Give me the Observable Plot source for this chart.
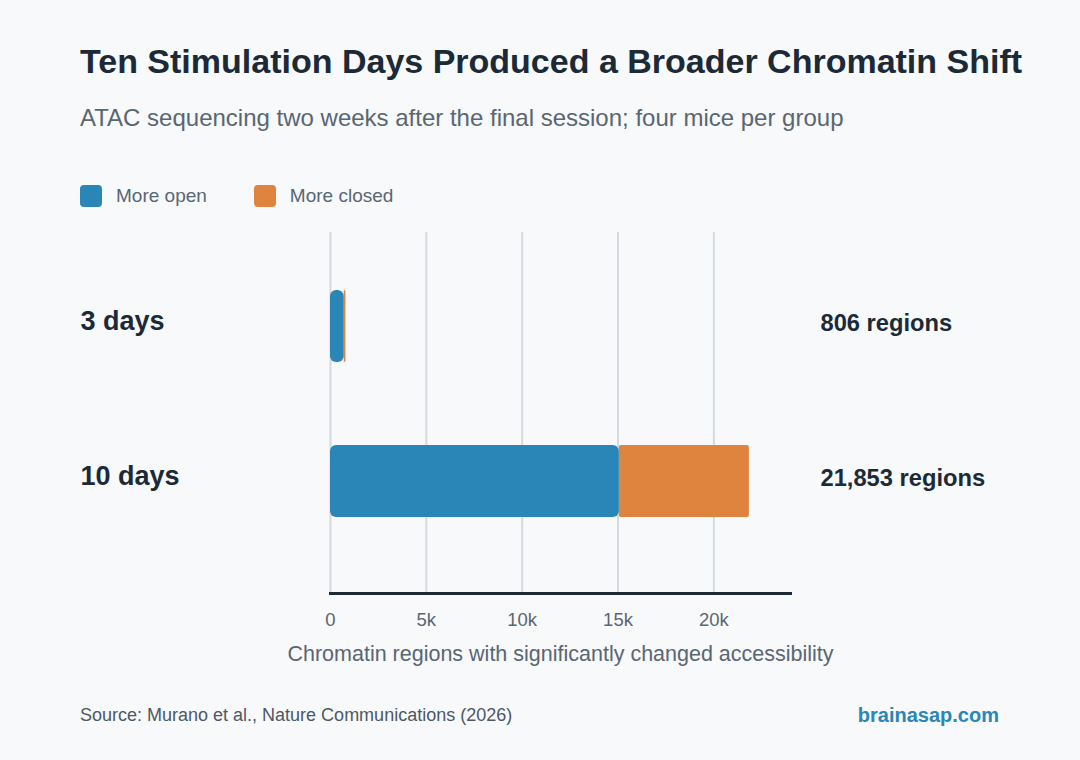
<!DOCTYPE html>
<html>
<head>
<meta charset="utf-8">
<script src="https://cdn.jsdelivr.net/npm/d3@7"></script>
<script src="https://cdn.jsdelivr.net/npm/@observablehq/plot@0.6"></script>
<style>
  html, body { margin: 0; padding: 0; background: #f7f9fb; }
  body { width: 1080px; height: 760px; position: relative; overflow: hidden; font-family: "Liberation Sans", Arial, sans-serif; }
  #title { position: absolute; left: 80px; top: 41px; font-size: 34px; font-weight: bold; color: #1c2a38; white-space: nowrap; line-height: 40px; }
  #subtitle { position: absolute; left: 80px; top: 104px; font-size: 24px; color: #5a6672; white-space: nowrap; line-height: 28px; }
  #legend { position: absolute; left: 80px; top: 184px; display: flex; font-size: 19px; color: #5a6672; line-height: 24px; }
  .item { display: flex; align-items: center; margin-right: 47px; }
  .sw { width: 22px; height: 22px; border-radius: 4px; margin-right: 14px; }
  #chart { position: absolute; left: 0; top: 215px; }
  #source { position: absolute; left: 80px; top: 704px; font-size: 18px; color: #4d5864; line-height: 22px; }
  #brand { position: absolute; right: 81px; top: 703px; font-size: 20px; font-weight: bold; color: #2a86b8; line-height: 24px; }
</style>
</head>
<body>
<div id="title">Ten Stimulation Days Produced a Broader Chromatin Shift</div>
<div id="subtitle">ATAC sequencing two weeks after the final session; four mice per group</div>
<div id="legend"></div>
<div id="chart"></div>
<div id="source">Source: Murano et al., Nature Communications (2026)</div>
<div id="brand">brainasap.com</div>
<script>
const groups = ["3 days", "10 days"];
const moreOpen = [715, 15070];
const moreClosed = [91, 6783];
const totalLabels = ["806 regions", "21,853 regions"];
const seriesNames = ["More open", "More closed"];
const seriesColors = ["#2a86b6", "#df843f"];
const xTicks = [0, 5000, 10000, 15000, 20000];
const xLabel = "Chromatin regions with significantly changed accessibility";

const rows = groups.map((g, i) => ({group: g, open: moreOpen[i], closed: moreClosed[i], total: moreOpen[i] + moreClosed[i], label: totalLabels[i]}));

const legend = document.getElementById("legend");
seriesNames.forEach((n, i) => {
  const it = document.createElement("div");
  it.className = "item";
  it.innerHTML = `<div class="sw" style="background:${seriesColors[i]}"></div><span>${n}</span>`;
  legend.appendChild(it);
});

const chart = Plot.plot({
  width: 1080,
  height: 465,
  marginLeft: 330,
  marginRight: 290,
  marginTop: 17,
  marginBottom: 87,
  style: {background: "transparent", fontFamily: "'Liberation Sans', Arial, sans-serif"},
  x: {domain: [0, 24000]},
  y: {domain: groups, paddingInner: 0.535, paddingOuter: 0.432, align: 0.433, axis: null},
  marks: [
    Plot.gridX(xTicks, {stroke: "#d3dae1", strokeOpacity: 1, strokeWidth: 2}),
    Plot.barX(rows, {x1: "open", x2: "total", y: "group", fill: seriesColors[1], rx: 2}),
    Plot.barX(rows, {x1: 0, x2: "open", y: "group", fill: seriesColors[0], rx: 6}),
    Plot.axisX(xTicks, {tickSize: 0, tickPadding: 19, fontSize: 18.5, fill: "#5a6672", tickFormat: d => d === 0 ? "0" : (d / 1000) + "k", label: null}),
    Plot.frame({anchor: "bottom", stroke: "#1f2a36", strokeWidth: 3}),
    Plot.text(rows, {y: "group", text: "group", frameAnchor: "left", dx: -250, dy: -5, textAnchor: "start", fontSize: 27, fontWeight: "bold", fill: "#1c2a38"}),
    Plot.text(rows, {y: "group", text: "label", frameAnchor: "right", dx: 30, dy: -3, textAnchor: "start", fontSize: 23.7, fontWeight: "bold", fill: "#1c2a38"}),
    Plot.text([xLabel], {frameAnchor: "bottom", dy: 67, fontSize: 21.5, fill: "#5a6672"})
  ]
});
document.getElementById("chart").appendChild(chart);
</script>
</body>
</html>
